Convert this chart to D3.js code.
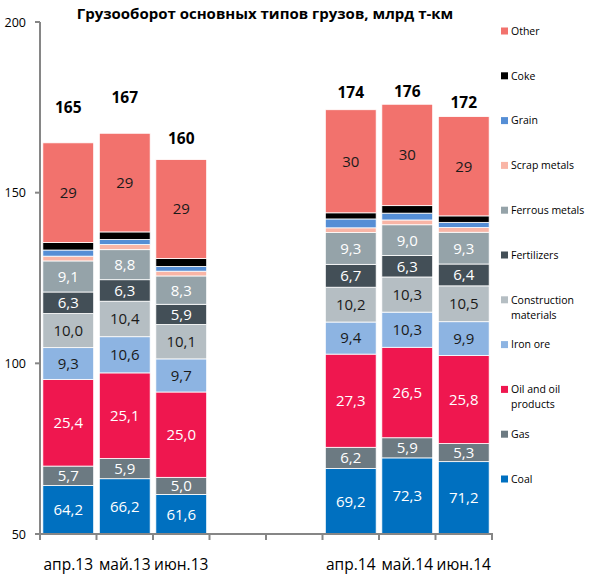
<!DOCTYPE html>
<html><head><meta charset="utf-8">
<script src="https://cdn.jsdelivr.net/npm/d3@7/dist/d3.min.js"></script>
<style>body{margin:0;background:#fff}svg{display:block}</style>
</head><body>
<svg id="chart" width="592" height="588"></svg>
<script>
const title = "Грузооборот основных типов грузов, млрд т-км";
const categories = ["апр.13","май.13","июн.13","","","апр.14","май.14","июн.14"];
// series from bottom to top; null = empty category
const coal         = [64.2, 66.2, 61.6, null, null, 69.2, 72.3, 71.2];
const gas          = [5.7, 5.9, 5.0, null, null, 6.2, 5.9, 5.3];
const oil          = [25.4, 25.1, 25.0, null, null, 27.3, 26.5, 25.8];
const ironOre      = [9.3, 10.6, 9.7, null, null, 9.4, 10.3, 9.9];
const construction = [10.0, 10.4, 10.1, null, null, 10.2, 10.3, 10.5];
const fertilizers  = [6.3, 6.3, 5.9, null, null, 6.7, 6.3, 6.4];
const ferrous      = [9.1, 8.8, 8.3, null, null, 9.3, 9.0, 9.3];
const scrap        = [1.4, 1.5, 1.4, null, null, 1.4, 1.4, 1.4];
const grain        = [1.8, 1.5, 1.4, null, null, 2.6, 2.0, 1.5];
const coke         = [2.2, 2.2, 2.3, null, null, 1.8, 2.2, 1.9];
const other        = [29.2, 28.9, 29.0, null, null, 30.2, 29.7, 29.1];
// vertical position (in value units) of total labels, as placed in the original
const totalLabelAt = [174.9, 177.9, 165.8, null, null, 179.3, 179.8, 176.4];
const yTicks = [50, 100, 150, 200];

const series = [
  {name:"Coal", values:coal, color:"#0070C0", label:"#ffffff", fmt:"d1"},
  {name:"Gas", values:gas, color:"#6C7A82", label:"#ffffff", fmt:"d1"},
  {name:"Oil and oil products", values:oil, color:"#EF174F", label:"#ffffff", fmt:"d1"},
  {name:"Iron ore", values:ironOre, color:"#8DB4E2", label:"#1a1a1a", fmt:"d1"},
  {name:"Construction materials", values:construction, color:"#B5BEC3", label:"#1a1a1a", fmt:"d1"},
  {name:"Fertilizers", values:fertilizers, color:"#434F57", label:"#ffffff", fmt:"d1"},
  {name:"Ferrous metals", values:ferrous, color:"#95A3A9", label:"#ffffff", fmt:"d1"},
  {name:"Scrap metals", values:scrap, color:"#F9B5A6", label:null},
  {name:"Grain", values:grain, color:"#558ED5", label:null},
  {name:"Coke", values:coke, color:"#000000", label:null},
  {name:"Other", values:other, color:"#F2726D", label:"#1a1a1a", fmt:"d0"}
];
const legendLines = {"Construction materials":["Construction","materials"],"Oil and oil products":["Oil and oil","products"]};

const svg = d3.select("#chart");
const font = "'Open Sans', 'Noto Sans', sans-serif";
const pLeft = 40, pRight = 492, pTop = 22, pBottom = 534;

const x = d3.scaleBand().domain(d3.range(categories.length)).range([pLeft, pRight]).paddingInner(0.1).paddingOuter(0.05);
const xb = d3.scaleLinear().domain([0, categories.length]).range([pLeft, pRight]);
const y = d3.scaleLinear().domain([50, 200]).range([pBottom, pTop]).clamp(true);

const comma = v => v.toFixed(1).replace(".", ",");

// bars
categories.forEach((c, i) => {
  if (coal[i] == null) return;
  let acc = 0;
  series.forEach(s => {
    const v = s.values[i];
    const y0 = acc, y1 = acc + v; acc = y1;
    svg.append("rect")
      .attr("x", x(i)).attr("width", x.bandwidth())
      .attr("y", y(y1)).attr("height", y(y0) - y(y1))
      .attr("fill", s.color).attr("stroke", "#fff").attr("stroke-width", 0.8);
    if (s.label) {
      const cy = (y(y0) + y(y1)) / 2;
      svg.append("text")
        .attr("x", x(i) + x.bandwidth() / 2).attr("y", cy)
        .attr("dy", "0.36em").attr("text-anchor", "middle")
        .attr("font-family", font).attr("font-size", 15)
        .attr("fill", s.label)
        .text(s.fmt === "d0" ? Math.round(v) : comma(v));
    }
  });
  svg.append("text")
    .attr("x", x(i) + x.bandwidth() / 2).attr("y", y(totalLabelAt[i]))
    .attr("dy", "0.36em").attr("text-anchor", "middle")
    .attr("font-family", font).attr("font-size", 15.5).attr("font-weight", "bold")
    .attr("fill", "#000").text(Math.round(acc));
});

// axes
const axisColor = "#868686";
svg.append("line").attr("x1", pLeft).attr("x2", pLeft).attr("y1", y(200)).attr("y2", y(50))
  .attr("stroke", axisColor).attr("stroke-width", 2);
yTicks.forEach(t => {
  svg.append("line").attr("x1", pLeft - 5).attr("x2", pLeft).attr("y1", y(t)).attr("y2", y(t))
    .attr("stroke", axisColor).attr("stroke-width", 2);
  svg.append("text").attr("x", pLeft - 14).attr("y", y(t)).attr("dy", "0.36em")
    .attr("text-anchor", "end").attr("font-family", font).attr("font-size", 12.5)
    .attr("fill", "#000").text(t);
});
svg.append("line").attr("x1", pLeft - 5).attr("x2", pRight + 1).attr("y1", pBottom).attr("y2", pBottom)
  .attr("stroke", axisColor).attr("stroke-width", 2);
d3.range(categories.length + 1).forEach(i => {
  svg.append("line").attr("x1", xb(i)).attr("x2", xb(i)).attr("y1", pBottom).attr("y2", pBottom + 6)
    .attr("stroke", axisColor).attr("stroke-width", 2);
});
categories.forEach((c, i) => {
  svg.append("text").attr("x", x(i) + x.bandwidth() / 2).attr("y", 564).attr("dy", "0.36em")
    .attr("text-anchor", "middle").attr("font-family", font).attr("font-size", 15.5)
    .attr("fill", "#000").text(c);
});

// title
svg.append("text").attr("x", 265).attr("y", 14).attr("dy", "0.36em").attr("text-anchor", "middle")
  .attr("font-family", font).attr("font-size", 15).attr("font-weight", "bold").attr("fill", "#000")
  .text(title);

// legend (top to bottom = reverse of stack)
const legendOrder = series.slice().reverse();
const ly = d3.scaleLinear().domain([0, legendOrder.length - 1]).range([31, 479]);
legendOrder.forEach((s, k) => {
  const cy = ly(k);
  svg.append("rect").attr("x", 501).attr("y", cy - 3.5).attr("width", 7).attr("height", 7).attr("fill", s.color);
  const lines = legendLines[s.name] || [s.name];
  lines.forEach((ln, j) => {
    svg.append("text").attr("x", 511).attr("y", cy + j * 15).attr("dy", "0.36em")
      .attr("font-family", font).attr("font-size", 10.5).attr("fill", "#000").text(ln);
  });
});
</script>
</body></html>
